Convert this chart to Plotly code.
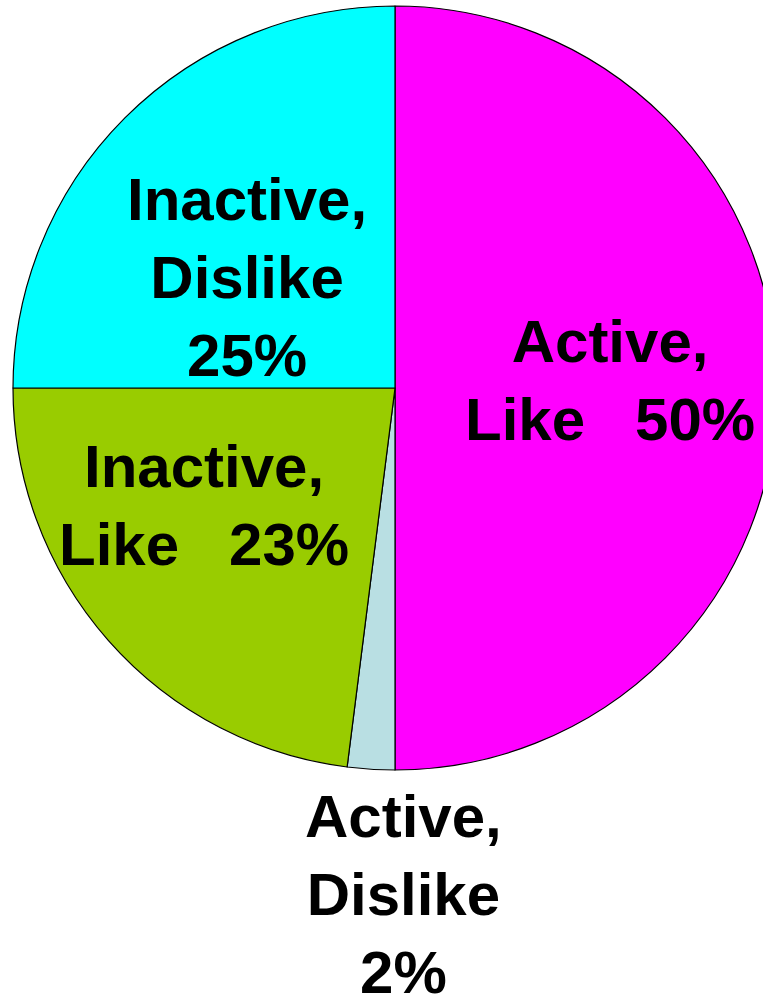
import plotly.graph_objects as go

# slice data, clockwise from 12 o'clock
activity = ["Active", "Active", "Inactive", "Inactive"]
opinion = ["Like", "Dislike", "Like", "Dislike"]
share = [50, 2, 23, 25]
colors = ["#FF00FF", "#B9DFE3", "#99CC00", "#00FFFF"]

W, H = 790, 999


def px(x, y):
    return x / W, 1 - y / H


fig = go.Figure(go.Pie(
    labels=[f"{a}, {o}" for a, o in zip(activity, opinion)],
    values=share,
    sort=False,
    direction="clockwise",
    rotation=0,
    marker=dict(colors=colors, line=dict(color="black", width=1.2)),
    textinfo="none",
    hoverinfo="label+percent",
    domain=dict(x=[13 / W, 777 / W], y=[1 - 770 / H, 1 - 6 / H]),
    showlegend=False,
))

# label placement (pixel centres) and line breaks per slice
label_pos = [(610, 381), (404, 894), (204, 505), (247, 277)]
second_sep = ["&nbsp;&nbsp;&nbsp;", "<br>", "&nbsp;&nbsp;&nbsp;", "<br>"]

for i in range(len(share)):
    x, y = px(*label_pos[i])
    fig.add_annotation(
        x=x, y=y, xref="paper", yref="paper",
        xanchor="center", yanchor="middle",
        text=f"{activity[i]},<br>{opinion[i]}{second_sep[i]}{share[i]}%",
        showarrow=False,
        font=dict(family="Liberation Sans, Arial, sans-serif", size=60,
                  color="black", weight="bold"),
        align="center",
    )

fig.update_layout(
    width=W, height=H,
    margin=dict(l=0, r=0, t=0, b=0),
    paper_bgcolor="white",
    plot_bgcolor="white",
    font=dict(family="Liberation Sans, Arial, sans-serif"),
)

fig.write_html(
    "out.html",
    config={"displayModeBar": False},
    post_script="document.body.style.margin='0';document.body.style.overflow='hidden';",
)
